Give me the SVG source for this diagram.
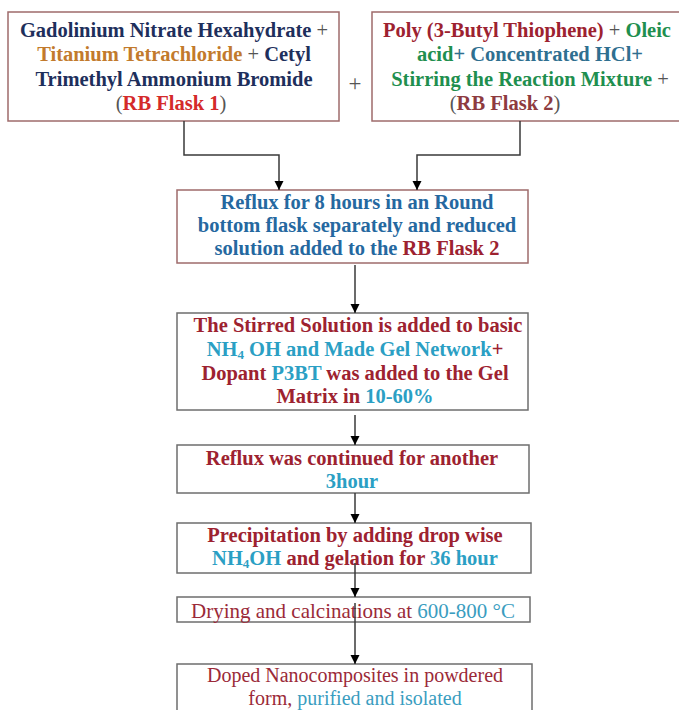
<svg xmlns="http://www.w3.org/2000/svg" width="679" height="710" viewBox="0 0 679 710">
<style>
  .b1 { fill: #fff; stroke: #9e6b6b; stroke-width: 1.5; }
  .b2 { fill: #fff; stroke: #6e6e6e; stroke-width: 1.5; }
  .tb { font-family: "Liberation Serif", "Times New Roman", serif; font-weight: bold; font-size: 20.5px; text-anchor: middle; }
  .tn { font-family: "Liberation Serif", "Times New Roman", serif; font-weight: normal; font-size: 21px; text-anchor: middle; }
  .conn { fill: none; stroke: #3a3a3a; stroke-width: 1.5; }
  .navy { fill: #1e2f5c; }
  .orange { fill: #c27a2c; }
  .red1 { fill: #d42a2a; }
  .gray { fill: #555; font-weight: normal; }
  .dred { fill: #9d2230; }
  .green { fill: #1f8f4f; }
  .teal { fill: #2f6f90; }
  .brown { fill: #8e3b3f; }
  .blue { fill: #2568a0; }
  .cyan { fill: #2b9fc4; }
  .mred { fill: #9b2a38; }
  .mteal { fill: #3a9dbf; }
</style>
<defs>
  <marker id="ah" markerUnits="userSpaceOnUse" markerWidth="10" markerHeight="10" refX="9" refY="5" orient="auto">
    <path d="M0,0.5 L9,5 L0,9.5 z" fill="#000"/>
  </marker>
</defs>
<rect width="679" height="710" fill="#fff"/>

<g id="node-flask1">
  <rect class="b1" x="8" y="12" width="331" height="109"/>
  <text class="tb" x="174" y="37"><tspan class="navy">Gadolinium Nitrate Hexahydrate </tspan><tspan class="gray">+</tspan></text>
  <text class="tb" x="174" y="61"><tspan class="orange">Titanium Tetrachloride </tspan><tspan class="gray">+ </tspan><tspan class="navy">Cetyl</tspan></text>
  <text class="tb" x="174" y="86"><tspan class="navy">Trimethyl Ammonium Bromide</tspan></text>
  <text class="tb" x="171" y="110"><tspan class="gray">(</tspan><tspan class="red1">RB Flask 1</tspan><tspan class="gray">)</tspan></text>
</g>

<g id="plus">
  <text class="tn" x="355" y="91" fill="#555" style="font-size:23px">+</text>
</g>

<g id="node-flask2">
  <rect class="b1" x="372" y="12" width="316" height="109"/>
  <text class="tb" x="527" y="37"><tspan class="dred">Poly (3-Butyl Thiophene) </tspan><tspan class="gray">+ </tspan><tspan class="green">Oleic</tspan></text>
  <text class="tb" x="530" y="61"><tspan class="green">acid</tspan><tspan class="teal">+ Concentrated HCl+</tspan></text>
  <text class="tb" x="530" y="86"><tspan class="green">Stirring the Reaction Mixture </tspan><tspan class="gray">+</tspan></text>
  <text class="tb" x="505" y="110"><tspan class="gray">(</tspan><tspan class="brown">RB Flask 2</tspan><tspan class="gray">)</tspan></text>
</g>

<g id="node-reflux8">
  <rect class="b1" x="177" y="190" width="351" height="73"/>
  <text class="tb blue" x="357" y="209">Reflux for 8 hours in an Round</text>
  <text class="tb blue" x="357" y="232">bottom flask separately and reduced</text>
  <text class="tb" x="357" y="255"><tspan class="blue">solution added to the </tspan><tspan class="dred">RB Flask 2</tspan></text>
</g>

<g id="node-stirred">
  <rect class="b2" x="177" y="313" width="351" height="97"/>
  <text class="tb dred" x="358" y="332">The Stirred Solution is added to basic</text>
  <text class="tb" x="355" y="356"><tspan class="cyan">NH</tspan><tspan class="cyan" dy="3" style="font-size:13px">4</tspan><tspan class="cyan" dy="-3"> OH and Made Gel Network</tspan><tspan class="dred">+</tspan></text>
  <text class="tb" x="355" y="380"><tspan class="dred">Dopant </tspan><tspan class="cyan">P3BT</tspan><tspan class="dred"> was added to the Gel</tspan></text>
  <text class="tb" x="355" y="403"><tspan class="dred">Matrix in </tspan><tspan class="cyan">10-60%</tspan></text>
</g>

<g id="node-reflux3">
  <rect class="b2" x="177" y="445" width="352" height="48"/>
  <text class="tb dred" x="352" y="465">Reflux was continued for another</text>
  <text class="tb cyan" x="352" y="488">3hour</text>
</g>

<g id="node-precip">
  <rect class="b2" x="177" y="523" width="354" height="50"/>
  <text class="tb dred" x="355" y="542">Precipitation by adding drop wise</text>
  <text class="tb" x="355" y="565"><tspan class="cyan">NH</tspan><tspan class="cyan" dy="3" style="font-size:13px">4</tspan><tspan class="cyan" dy="-3">OH</tspan><tspan class="dred"> and gelation for </tspan><tspan class="cyan">36 hour</tspan></text>
</g>

<g id="node-drying">
  <rect class="b2" x="177" y="597" width="353" height="25"/>
  <text class="tn" x="353" y="618"><tspan class="mred">Drying and calcinations at </tspan><tspan class="mteal">600-800 °C</tspan></text>
</g>

<g id="node-doped">
  <rect class="b2" x="177" y="664" width="355" height="60"/>
  <text class="tn mred" x="355" y="682" style="font-size:20px">Doped Nanocomposites in powdered</text>
  <text class="tn" x="355" y="705" style="font-size:20px"><tspan class="mred">form, </tspan><tspan class="mteal">purified and isolated</tspan></text>
</g>

<g id="connectors">
  <polyline class="conn" points="184,121 184,155 279,155 279,190" marker-end="url(#ah)"/>
  <polyline class="conn" points="520,121 520,155 417,155 417,190" marker-end="url(#ah)"/>
  <line class="conn" x1="355" y1="265" x2="355" y2="313" marker-end="url(#ah)"/>
  <line class="conn" x1="355" y1="415" x2="355" y2="445" marker-end="url(#ah)"/>
  <line class="conn" x1="355" y1="493" x2="355" y2="523" marker-end="url(#ah)"/>
  <line class="conn" x1="355" y1="563" x2="355" y2="597" marker-end="url(#ah)"/>
  <line class="conn" x1="355" y1="603" x2="355" y2="664" marker-end="url(#ah)"/>
</g>
</svg>
